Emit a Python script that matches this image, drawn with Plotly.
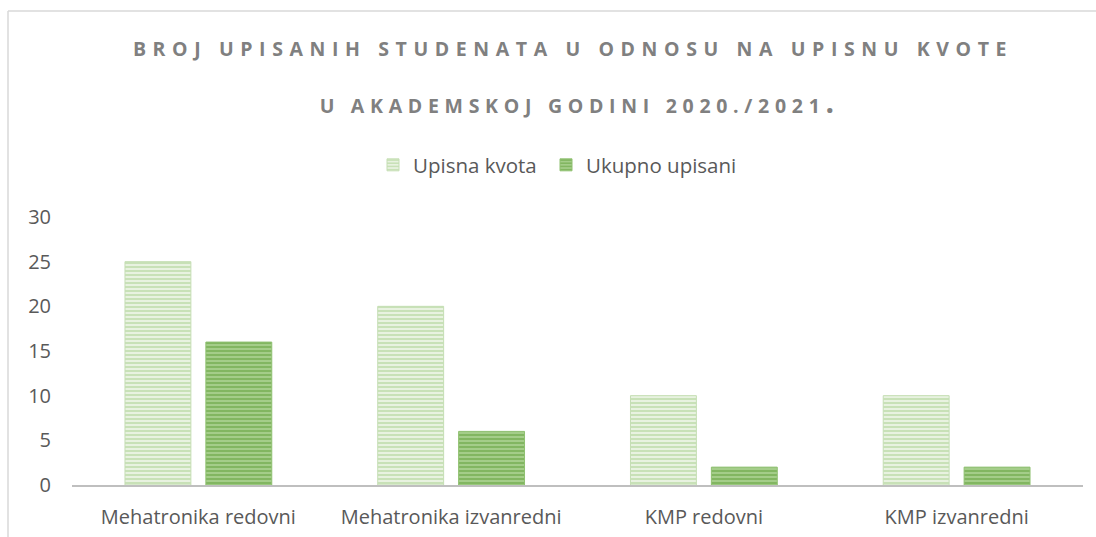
import plotly.graph_objects as go

categories = ["Mehatronika redovni", "Mehatronika izvanredni", "KMP redovni", "KMP izvanredni"]
upisna_kvota = [25, 20, 10, 10]
ukupno_upisani = [16, 6, 2, 2]
y_ticks = [0, 5, 10, 15, 20, 25, 30]
title_line1 = "BROJ UPISANIH STUDENATA U ODNOSU NA UPISNU KVOTE"
title_line2 = "U AKADEMSKOJ GODINI 2020./2021"

W, H = 1096, 537
L, R, T, B = 72, 1083, 217, 485

def px(x):
    return (x - L) / (R - L)

def py(y):
    return (B - y) / (B - T)

FONT = "Open Sans"

fig = go.Figure()
fig.add_trace(go.Bar(
    name="Upisna kvota", x=categories, y=upisna_kvota, legend="legend",
    marker=dict(color="#ebf3e5",
                line=dict(color="#c5deb4", width=1),
                pattern=dict(shape="-", fgcolor="#a6cf8a", bgcolor="#ebf3e5",
                             size=4, solidity=0.55, fillmode="overlay")),
))
fig.add_trace(go.Bar(
    name="Ukupno upisani", x=categories, y=ukupno_upisani, legend="legend2",
    marker=dict(color="#a8d08d",
                line=dict(color="#8fc070", width=1),
                pattern=dict(shape="-", fgcolor="#5b9b36", bgcolor="#a8d08d",
                             size=4, solidity=0.55, fillmode="overlay")),
))

legend_common = dict(orientation="h", xanchor="left", y=py(165), yanchor="middle",
                     font=dict(family=FONT, size=20.5, color="#595959"),
                     bgcolor="rgba(0,0,0,0)", itemwidth=30)

fig.update_layout(
    width=W, height=H,
    margin=dict(l=L, r=W - R, t=T, b=H - B, autoexpand=False),
    paper_bgcolor="white", plot_bgcolor="white",
    barmode="group", bargap=0.36, bargroupgap=0.185,
    font=dict(family=FONT, size=20, color="#595959"),
    showlegend=True,
    legend=dict(x=px(373), **legend_common),
    legend2=dict(x=px(546), **legend_common),
    title=dict(text=title_line1, x=px(573), xref="paper", xanchor="center",
               y=1 - 49 / H, yref="container", yanchor="middle",
               font=dict(family=FONT, size=19.5, color="#808080", weight="bold")),
    xaxis=dict(showline=True, linecolor="#bfbfbf", linewidth=2, showgrid=False,
               ticks="", ticklabelstandoff=13, zeroline=False),
    yaxis=dict(range=[0, 30], tickvals=y_ticks, showgrid=False, showline=False,
               zeroline=False, ticks="", ticklabelstandoff=20),
    annotations=[
        dict(text=title_line2 + "<span style='font-size:30px'>.</span>", x=px(579), y=py(101),
             xref="paper", yref="paper", xanchor="center", yanchor="middle", showarrow=False,
             font=dict(family=FONT, size=19.5, color="#808080", weight="bold")),
    ],
    shapes=[
        dict(type="line", xref="paper", yref="paper", x0=px(8), x1=px(8), y0=py(11), y1=py(540),
             line=dict(color="#d9d9d9", width=1.5)),
        dict(type="line", xref="paper", yref="paper", x0=px(8), x1=px(1100), y0=py(11), y1=py(11),
             line=dict(color="#d9d9d9", width=1.5)),
    ],
)

post = """
document.body.style.margin = '0';
var st = document.createElement('style');
st.innerHTML = '.annotation-text { letter-spacing: 5.7px; } .gtitle { letter-spacing: 6.6px; }';
document.head.appendChild(st);
"""
fig.write_html("out.html", post_script=post, config={"displayModeBar": False})
